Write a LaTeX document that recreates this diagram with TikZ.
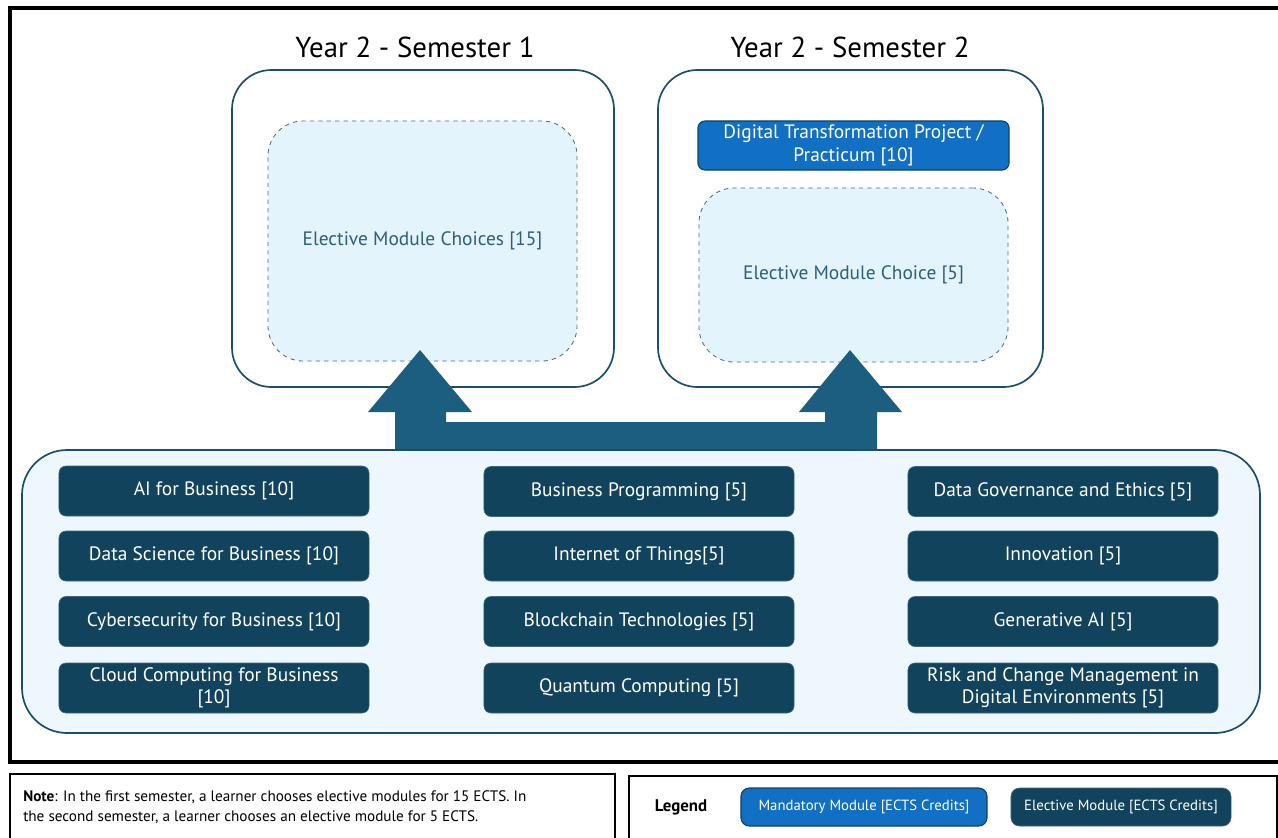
\documentclass[tikz,border=0pt]{standalone}
\usepackage{fontspec}
\setmainfont{PT Sans}
\usetikzlibrary{positioning}
\definecolor{teal}{HTML}{1A4E6A}
\definecolor{arrowblue}{HTML}{1B5E7F}
\definecolor{modfill}{HTML}{12435D}
\definecolor{poolfill}{HTML}{EEF7FD}
\definecolor{choicefill}{HTML}{E3F4FD}
\definecolor{choiceline}{HTML}{4A6F86}
\definecolor{choicetext}{HTML}{2F5E78}
\definecolor{mandfill}{HTML}{1170C4}
\tikzset{
  sembox/.style={draw=teal, line width=1.2pt, rounded corners=28pt},
  choicebox/.style={draw=choiceline, fill=choicefill, dashed, line width=0.6pt,
    rounded corners=25pt, text=choicetext, font=\fontsize{13.8}{16}\selectfont},
  modbox/.style={fill=modfill, draw=modfill!80!white, rounded corners=5pt, text=white,
    minimum width=7.75cm, minimum height=1.25cm, align=center,
    font=\fontsize{13.8}{16}\selectfont, inner sep=0pt},
  mandbox/.style={modbox, fill=mandfill, draw=modfill, line width=0.8pt},
  sembtitle/.style={font=\fontsize{20.5}{24}\selectfont},
}
\begin{document}
\begin{tikzpicture}[x=0.025cm, y=-0.025cm]
\useasboundingbox (0,0) rectangle (1278,837);
\fill[white] (0,0) rectangle (1278,837);
\draw[line width=2.6pt] (10,8) rectangle (1300,762);
\draw[line width=1.2pt] (10,774) rectangle (615,850)
      (629,776) rectangle (1277,850);
\path (415,47) node[sembtitle] (t1) {Year 2 - Semester 1}
      (850,47) node[sembtitle] (t2) {Year 2 - Semester 2};
\draw[sembox] (232,70) rectangle (614,387)
      (658,70) rectangle (1043,387);
\path (422.5,241) node[choicebox, minimum width=7.725cm, minimum height=6cm] (ch1) {Elective Module Choices [15]}
      (853.5,275) node[choicebox, minimum width=7.725cm, minimum height=4.35cm] (ch2) {Elective Module Choice [5]}
      (853.5,145.5) node[mandbox, minimum width=7.775cm, minimum height=1.225cm] (proj) {Digital Transformation Project /\\Practicum [10]};
\fill[arrowblue] (395,450) -- (395,412) -- (368,412) -- (420,350) -- (472,412) -- (446,412)
      -- (446,422) -- (825,422) -- (825,412) -- (799,412) -- (850,350) -- (902,412)
      -- (877,412) -- (877,450) -- cycle;
\draw[draw=teal, fill=poolfill, line width=1.2pt, rounded corners=32pt] (22,450) rectangle (1260,733);
\path (214,491) node[modbox] (ai) {AI for Business [10]}
      (214,556) node[modbox] (ds) {Data Science for Business [10]}
      (214,621.5) node[modbox] (cy) {Cybersecurity for Business [10]}
      (214,688) node[modbox] (cc) {Cloud Computing for Business\\{}[10]}
      (639,491.5) node[modbox] (bp) {Business Programming [5]}
      (639,556) node[modbox] (iot) {Internet of Things[5]}
      (639,621.5) node[modbox] (bc) {Blockchain Technologies [5]}
      (639,688) node[modbox] (qc) {Quantum Computing [5]}
      (1063,491.5) node[modbox] (dg) {Data Governance and Ethics [5]}
      (1063,556) node[modbox] (inn) {Innovation [5]}
      (1063,621.5) node[modbox] (gen) {Generative AI [5]}
      (1063,688) node[modbox] (risk) {Risk and Change Management in\\Digital Environments [5]};
\node[anchor=north west, inner sep=0pt, align=left,
      font=\fontsize{10.8}{14.5}\selectfont] (note) at (23,790)
      {\textbf{Note}: In the first semester, a learner chooses elective modules for 15 ECTS. In\\the second semester, a learner chooses an elective module for 5 ECTS.};
\path (681,807) node[font=\fontsize{12}{14}\selectfont\bfseries] (leg) {Legend}
      (864,807) node[mandbox, minimum width=6.15cm, minimum height=0.95cm, rounded corners=6pt,
        font=\fontsize{10.5}{12}\selectfont] (legm) {Mandatory Module [ECTS Credits]}
      (1121,807) node[modbox, minimum width=5.5cm, minimum height=0.95cm, rounded corners=6pt,
        font=\fontsize{10.5}{12}\selectfont] (lege) {Elective Module [ECTS Credits]};
\end{tikzpicture}
\end{document}
